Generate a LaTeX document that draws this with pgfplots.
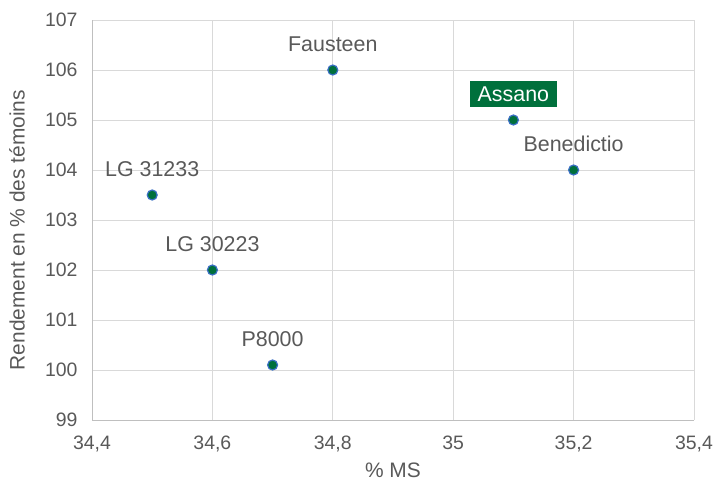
\documentclass[border=0pt]{standalone}
\usepackage{fontspec}
\setmainfont{Liberation Sans}
\usepackage{pgfplots}
\pgfplotsset{compat=1.18}
\definecolor{txt}{HTML}{595959}
\definecolor{gridc}{HTML}{D9D9D9}
\definecolor{axc}{HTML}{BFBFBF}
\definecolor{dgreen}{HTML}{00703C}
\definecolor{mblue}{HTML}{3A6FC4}
\begin{document}
\begin{tikzpicture}
\useasboundingbox (0,0) rectangle (714bp,481bp);
\begin{axis}[
  at={(92bp,61bp)}, anchor=south west,
  scale only axis, width=602bp, height=400bp,
  xmin=34.4, xmax=35.4, ymin=99, ymax=107,
  xtick={34.4,34.6,34.8,35,35.2,35.4},
  ytick={99,100,...,107},
  xticklabel style={yshift=-12bp, /pgf/number format/.cd,use comma,fixed,precision=1},
  /pgf/number format/assume math mode=true,
  grid=major, major grid style={gridc, line width=0.8pt},
  axis line style={axc, line width=0.9pt},
  axis x line*=bottom, axis y line*=left,
  tick style={draw=none},
  ticklabel style={font=\fontsize{19.5}{21}\selectfont, text=txt},
  yticklabel style={xshift=-11bp},
  xlabel={\% MS}, ylabel={Rendement en \% des témoins},
  xlabel style={font=\fontsize{21}{22}\selectfont, text=txt, at={(axis description cs:0.5,0)}, anchor=center, yshift=-50bp},
  ylabel style={font=\fontsize{21}{22}\selectfont, text=txt, at={(axis description cs:0,0.5)}, anchor=center, yshift=75bp, xshift=-10bp},
  clip=false,
]
\addplot[only marks, mark=*, mark size=5bp, mark options={fill=dgreen, draw=mblue, line width=1.2pt},
  nodes near coords, point meta=explicit symbolic,
  every node near coord/.style={font=\fontsize{21.5}{22}\selectfont, text=txt, anchor=south, yshift=14bp}]
  table[meta=label, col sep=comma] {
x,y,label
34.8,106,Fausteen
35.2,104,Benedictio
34.5,103.5,LG 31233
34.6,102,LG 30223
34.7,100.1,P8000
};
\addplot[only marks, mark=*, mark size=5bp, mark options={fill=dgreen, draw=mblue, line width=1.2pt},
  nodes near coords, point meta=explicit symbolic,
  every node near coord/.style={font=\fontsize{21.5}{22}\selectfont, text=white, fill=dgreen, anchor=south, yshift=12bp, inner xsep=7.5bp, inner ysep=5.5bp}]
  table[meta=label, col sep=comma] {
x,y,label
35.1,105,Assano
};
\end{axis}
\end{tikzpicture}
\end{document}
